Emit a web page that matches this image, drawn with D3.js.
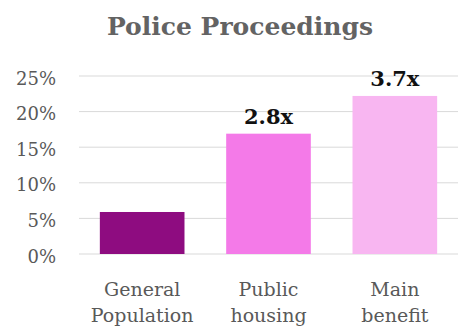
<!DOCTYPE html>
<html>
<head>
<meta charset="utf-8">
<script src="https://cdn.jsdelivr.net/npm/d3@7"></script>
<style>
  body { margin: 0; background: #fff; }
  text { font-family: "DejaVu Serif", "Liberation Serif", serif; }
</style>
</head>
<body>
<svg class="chart"></svg>
<script>
var categories = [["General", "Population"], ["Public", "housing"], ["Main", "benefit"]];
var values = [5.9, 16.9, 22.2];
var ratioLabels = ["", "2.8x", "3.7x"];
var ticks = [0, 5, 10, 15, 20, 25];
var colors = ["#8e0c80", "#f47ae8", "#f8b6f1"];

var W = 469, H = 329;
var margin = { top: 76, right: 11, bottom: 75, left: 79 },
    width = W - margin.left - margin.right,
    height = H - margin.top - margin.bottom;

var svg = d3.select(".chart").attr("width", W).attr("height", H);

svg.append("text")
    .attr("x", 240).attr("y", 35)
    .attr("text-anchor", "middle")
    .style("font-size", "25px").style("font-weight", "bold")
    .style("fill", "#636363")
    .text("Police Proceedings");

var chart = svg.append("g")
    .attr("transform", "translate(" + margin.left + "," + margin.top + ")");

var x = d3.scaleBand().domain(d3.range(values.length)).range([0, width]).paddingInner(0.33).paddingOuter(0.165);
var y = d3.scaleLinear().domain([0, 25]).range([height, 0]);

// gridlines
chart.selectAll(".grid").data(ticks).enter().append("line")
    .attr("x1", 0).attr("x2", width)
    .attr("y1", function (d) { return y(d); })
    .attr("y2", function (d) { return y(d); })
    .style("stroke", "#d9d9d9").style("stroke-width", 1);

// y axis labels
var yAxis = chart.append("g")
    .call(d3.axisLeft(y).tickValues(ticks).tickSize(0).tickPadding(23)
        .tickFormat(function (d) { return d + "%"; }));
yAxis.select(".domain").remove();
yAxis.selectAll("text")
    .attr("dy", "0.45em")
    .style("font-size", "18px").style("fill", "#595959")
    .style("font-family", "'DejaVu Serif', serif");

chart.selectAll(".bar").data(values).enter().append("rect")
    .attr("class", "bar")
    .attr("x", function (d, i) { return x(i); })
    .attr("width", x.bandwidth())
    .attr("y", function (d) { return y(d); })
    .attr("height", function (d) { return height - y(d); })
    .style("fill", function (d, i) { return colors[i]; });

chart.selectAll(".val").data(values).enter().append("text")
    .attr("x", function (d, i) { return x(i) + x.bandwidth() / 2; })
    .attr("y", function (d) { return y(d) - 10; })
    .attr("text-anchor", "middle")
    .style("font-size", "21px").style("font-weight", "bold").style("fill", "#111")
    .text(function (d, i) { return ratioLabels[i]; });

// category labels
var cat = chart.selectAll(".cat").data(categories).enter().append("text")
    .attr("text-anchor", "middle")
    .attr("transform", function (d, i) {
        return "translate(" + (x(i) + x.bandwidth() / 2) + "," + (height + 42) + ")";
    })
    .style("font-size", "19px").style("fill", "#595959");
cat.selectAll("tspan").data(function (d) { return d; }).enter().append("tspan")
    .attr("x", 0)
    .attr("dy", function (d, i) { return i ? 26 : 0; })
    .text(function (d) { return d; });
</script>
</body>
</html>
